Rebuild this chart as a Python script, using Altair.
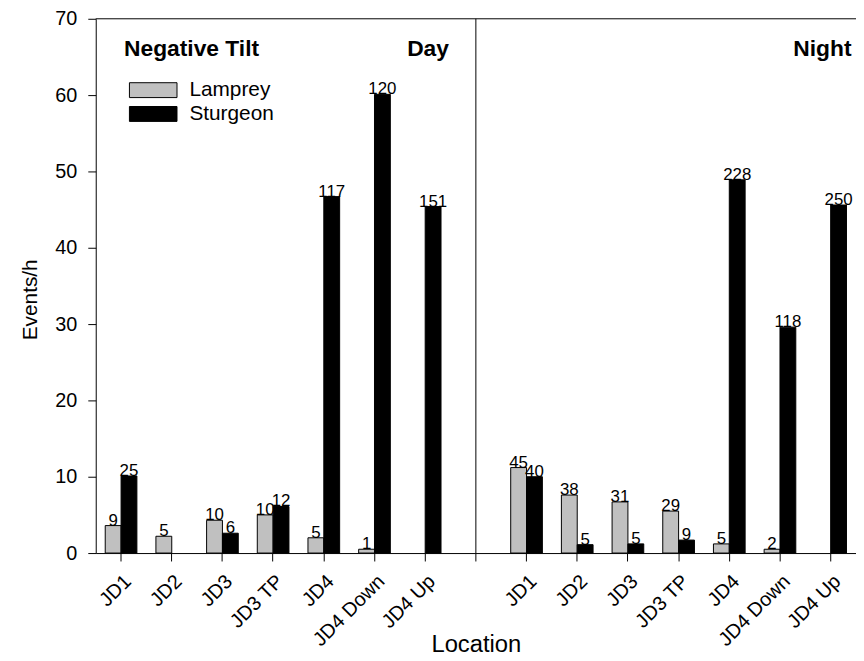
import altair as alt
import pandas as pd

locations = ["JD1", "JD2", "JD3", "JD3 TP", "JD4", "JD4 Down", "JD4 Up"]
species = ["Lamprey", "Sturgeon"]

day_lamprey = [3.6, 2.2, 4.3, 5.0, 2.0, 0.5, None]
day_sturgeon = [10.1, None, 2.6, 6.1, 46.7, 60.1, 45.4]
night_lamprey = [11.2, 7.6, 6.7, 5.5, 1.2, 0.5, None]
night_sturgeon = [10.0, 1.1, 1.2, 1.7, 48.9, 29.6, 45.6]

day_lamprey_n = [9, 5, 10, 10, 5, 1, None]
day_sturgeon_n = [25, None, 6, 12, 117, 120, 151]
night_lamprey_n = [45, 38, 31, 29, 5, 2, None]
night_sturgeon_n = [40, 5, 5, 9, 228, 118, 250]

FONT = "Liberation Sans"

rows = []
for period, lam, stu, lam_n, stu_n in [
    ("Day", day_lamprey, day_sturgeon, day_lamprey_n, day_sturgeon_n),
    ("Night", night_lamprey, night_sturgeon, night_lamprey_n, night_sturgeon_n),
]:
    for i, loc in enumerate(locations):
        if lam[i] is not None:
            rows.append({"loc": f"{period}|{loc}", "species": "Lamprey", "value": lam[i], "n": str(lam_n[i])})
        if stu[i] is not None:
            rows.append({"loc": f"{period}|{loc}", "species": "Sturgeon", "value": stu[i], "n": str(stu_n[i])})
df = pd.DataFrame(rows)

domain = [f"Day|{l}" for l in locations] + ["Mid|"] + [f"Night|{l}" for l in locations]

xscale = alt.Scale(domain=domain, paddingInner=0, paddingOuter=0)
offscale = alt.Scale(domain=species, paddingInner=0, paddingOuter=0.6)
yscale = alt.Scale(domain=[0, 70], nice=False, zero=True)

x_enc = alt.X(
    "loc:N",
    scale=xscale,
    sort=domain,
    axis=alt.Axis(
        title="Location",
        labelExpr="split(datum.value, '|')[1]",
        labelAngle=-45,
        labelAlign="right",
        labelBaseline="top",
        labelFontSize=20,
        labelPadding=10,
        tickSize=8,
        titleFontSize=24,
        titleFontWeight="normal",
        titleY=92,
        titleBaseline="middle",
    ),
)
y_enc = alt.Y(
    "value:Q",
    scale=yscale,
    axis=alt.Axis(
        title="Events/h",
        values=[0, 10, 20, 30, 40, 50, 60, 70],
        tickSize=8,
        labelFontSize=20,
        labelPadding=11,
        grid=False,
        titleFontSize=21,
        titleFontWeight="normal",
        titleX=-66,
        titleY=283,
        titleBaseline="middle",
    ),
)

legend_path = "M-1.846,-0.577H1.846V0.577H-1.846Z"

bars = alt.Chart(df).mark_bar(stroke="black", strokeWidth=1).encode(
    x=x_enc,
    xOffset=alt.XOffset("species:N", scale=offscale),
    y=y_enc,
    color=alt.Color(
        "species:N",
        scale=alt.Scale(domain=species, range=["#c0c0c0", "#000000"]),
        legend=alt.Legend(
            title=None,
            orient="none",
            legendX=44.5,
            legendY=58.5,
            symbolType=legend_path,
            symbolSize=676,
            symbolStrokeColor="black",
            symbolStrokeWidth=1,
            symbolOpacity=1,
            labelFontSize=21,
            labelOffset=23,
            rowPadding=0,
            padding=0,
            labelColor="black",
        ),
    ),
)

labels = alt.Chart(df).mark_text(
    baseline="alphabetic", dy=0, fontSize=17, font=FONT, color="black"
).encode(
    x=alt.X("loc:N", scale=xscale, sort=domain),
    xOffset=alt.XOffset("species:N", scale=offscale),
    y=alt.Y("value:Q", scale=yscale),
    text="n:N",
)

divider = alt.Chart(pd.DataFrame({"loc": ["Mid|"]})).mark_rule(color="black", strokeWidth=1).encode(
    x=alt.X("loc:N", scale=xscale, sort=domain)
)

top_line = alt.Chart(pd.DataFrame({"top": [70]})).mark_rule(color="black", strokeWidth=1).encode(
    y=alt.Y("top:Q", scale=yscale)
)

ann = pd.DataFrame({
    "loc": ["Day|JD1", "Day|JD4 Up", "Night|JD4 Up"],
    "yv": [66, 66, 66],
    "txt": ["Negative Tilt", "Day", "Night"],
})
ann_left = alt.Chart(ann.iloc[[0]]).mark_text(
    align="left", baseline="middle", fontSize=23, fontWeight="bold", font=FONT, dx=3, color="black"
).encode(x=alt.X("loc:N", scale=xscale, sort=domain), y=alt.Y("yv:Q", scale=yscale), text="txt:N")
ann_day = alt.Chart(ann.iloc[[1]]).mark_text(
    align="right", baseline="middle", fontSize=23, fontWeight="bold", font=FONT, dx=24, color="black"
).encode(x=alt.X("loc:N", scale=xscale, sort=domain), y=alt.Y("yv:Q", scale=yscale), text="txt:N")
ann_night = alt.Chart(ann.iloc[[2]]).mark_text(
    align="right", baseline="middle", fontSize=23, fontWeight="bold", font=FONT, dx=21, color="black"
).encode(x=alt.X("loc:N", scale=xscale, sort=domain), y=alt.Y("yv:Q", scale=yscale), text="txt:N")

chart = alt.layer(bars, labels, divider, top_line, ann_left, ann_day, ann_night).properties(
    width=767,
    height=539,
    autosize=alt.AutoSizeParams(type="none"),
    padding={"left": 88.5, "top": 8, "right": 0, "bottom": 104},
).configure(
    font=FONT,
).configure_view(
    stroke=None,
).configure_axis(
    domainColor="black",
    tickColor="black",
    labelColor="black",
    titleColor="black",
    labelFont=FONT,
    titleFont=FONT,
).configure_legend(
    labelFont=FONT,
)

chart.save("out.html", embed_options={"renderer": "svg", "actions": False})
